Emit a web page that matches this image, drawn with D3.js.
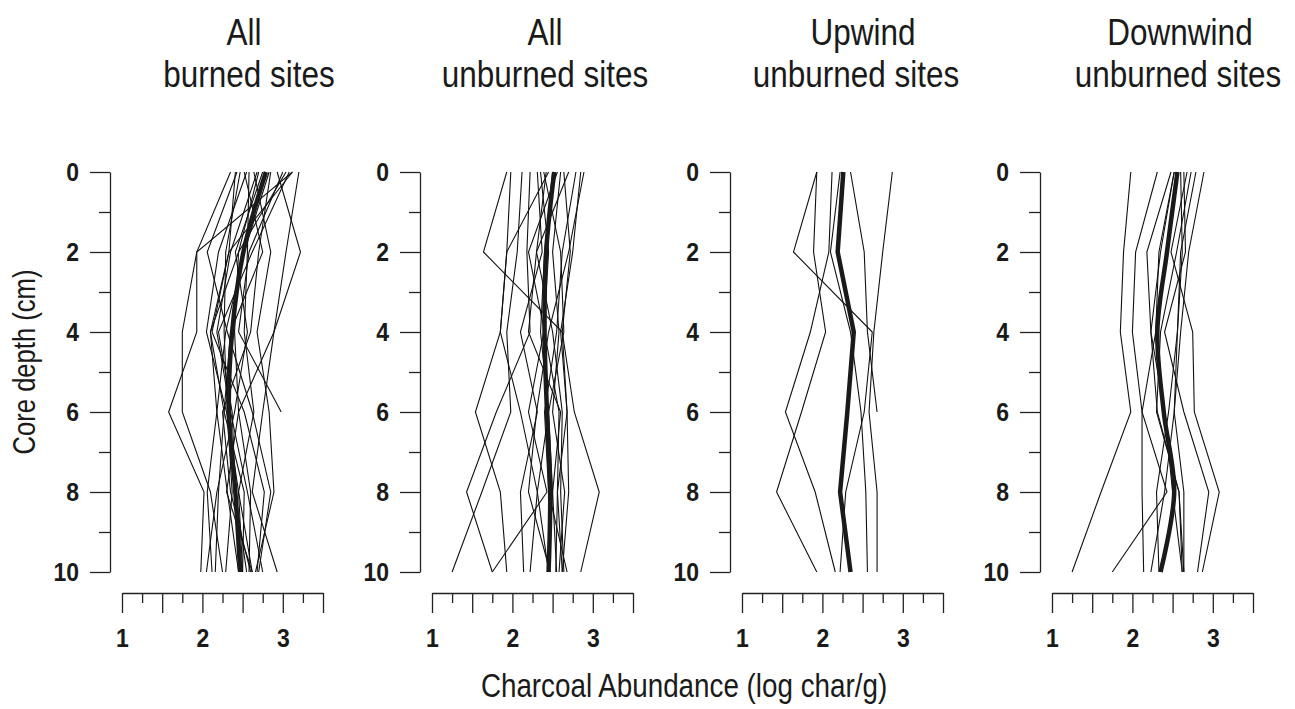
<!DOCTYPE html>
<html>
<head>
<meta charset="utf-8">
<script src="https://cdn.jsdelivr.net/npm/d3@7"></script>
<style>
  body { margin: 0; background: #fff; }
  svg text { font-family: "Liberation Sans", Arial, Helvetica, sans-serif; fill: #1a1a1a; }
</style>
</head>
<body>
<div id="chart"></div>
<script>
// depths sampled in every core (cm)
const depths = [0, 2, 4, 6, 8, 10];

// panel titles (two lines each)
const titles = [
  ["All", "burned sites"],
  ["All", "unburned sites"],
  ["Upwind", "unburned sites"],
  ["Downwind", "unburned sites"]
];

// log char/g per site, values at depths 0,2,4,6,8,10 (some cores stop early)
const burnedSites = [
  [3.12, 1.93, 1.75, 1.75, 2.10, 2.25],
  [2.35, 1.93, 1.93, 1.58, 2.02, 1.98],
  [2.41, 2.33, 2.10, 2.18, 2.06, 2.12],
  [2.47, 2.29, 2.27, 2.31, 2.37, 2.29],
  [2.52, 2.75, 2.35, 2.27, 2.52, 2.50],
  [2.58, 2.56, 2.52, 2.64, 2.45, 2.62],
  [2.64, 2.85, 2.68, 2.83, 2.89, 2.66],
  [2.68, 2.35, 2.18, 2.35, 2.56, 2.75],
  [2.83, 2.52, 2.29, 2.18, 2.31, 2.45],
  [2.93, 3.22, 2.89, 2.75, 2.62, 2.93],
  [3.00, 2.58, 2.45, 2.98],
  [3.04, 2.45, 2.10, 2.27, 2.20, 2.16],
  [3.08, 2.62, 2.20, 2.37, 2.41, 2.55],
  [3.12, 2.33, 2.12, 2.52, 2.77, 2.68],
  [3.20, 3.04, 2.89, 2.45, 2.30, 2.62],
  [2.43, 2.06, 2.31, 2.62, 2.85, 2.70],
  [2.75, 2.41, 2.56, 2.40, 2.18, 2.05],
  [2.85, 2.70, 2.60, 2.25, 2.35, 2.60],
  [2.55, 2.20, 2.05, 2.30, 2.45, 2.50],
  [2.70, 2.45, 2.40, 2.45, 2.60, 2.58]
];
const burnedMean = [2.79, 2.51, 2.37, 2.33, 2.41, 2.47];

const unburnedSites = [
  [1.93, 1.64, 2.62, 2.68, 2.56, 2.62],
  [1.98, 1.93, 1.85, 1.54, 1.85, 1.93],
  [2.12, 2.06, 1.93, 1.98, 1.62, 1.25],
  [2.22, 2.18, 2.22, 1.80, 1.43, 1.75],
  [2.31, 2.37, 2.10, 2.31, 2.10, 2.14],
  [2.35, 2.45, 2.39, 2.20, 2.43, 1.75],
  [2.39, 2.60, 2.64, 2.45, 2.31, 2.22],
  [2.45, 1.93, 1.85, 2.10, 2.31, 2.45],
  [2.56, 2.20, 2.40, 2.58, 2.56, 2.54],
  [2.64, 2.72, 2.62, 2.77, 3.08, 2.85],
  [2.70, 2.30, 2.50, 2.62, 2.60, 2.64],
  [2.79, 2.62, 2.55, 2.40, 2.45, 2.68],
  [2.85, 2.75, 2.60, 2.68, 2.70, 2.62],
  [2.89, 2.70, 2.45, 2.30, 2.20, 2.47],
  [2.50, 2.40, 2.35, 2.45, 2.50, 2.55],
  [2.60, 2.50, 2.58, 2.50, 2.65, 2.58],
  [2.42, 2.30, 2.20, 2.60, 2.50, 2.45]
];
const unburnedMean = [2.52, 2.42, 2.40, 2.43, 2.47, 2.45];

const upwindSites = [
  [1.93, 1.64, 2.62, 2.52, 2.29, 2.22],
  [1.93, 1.89, 2.04, 1.74, 1.43, 1.93],
  [2.12, 2.08, 1.85, 1.54, 1.91, 2.16],
  [2.22, 2.10, 2.35, 2.48, 2.54, 2.56],
  [2.35, 2.52, 2.56, 2.68],
  [2.87, 2.75, 2.64, 2.58, 2.68, 2.68]
];
const upwindMean = [2.26, 2.19, 2.39, 2.31, 2.22, 2.35];

const downwindSites = [
  [1.98, 1.89, 1.85, 1.98, 1.61, 1.25],
  [2.31, 2.04, 2.00, 2.12, 2.43, 1.75],
  [2.48, 2.18, 2.23, 2.31, 2.58, 2.64],
  [2.52, 2.33, 2.29, 2.12, 2.12, 2.14],
  [2.60, 2.62, 2.56, 2.52, 2.40, 2.23],
  [2.64, 2.66, 2.40, 2.64, 2.95, 2.81],
  [2.68, 2.48, 2.75, 2.77, 3.08, 2.87],
  [2.73, 2.55, 2.35, 2.30, 2.58, 2.62],
  [2.79, 2.60, 2.56, 2.45, 2.30, 2.33],
  [2.89, 2.70, 2.60, 2.52, 2.64, 2.64],
  [2.52, 2.35, 2.23, 2.40, 2.50, 2.62]
];
const downwindMean = [2.56, 2.43, 2.31, 2.39, 2.52, 2.35];

const xMajorTicks = [1, 1.5, 2, 2.5, 3, 3.5];
const xMinorTicks = [1.25, 1.75, 2.25, 2.75, 3.25];
const xLabelTicks = [1, 2, 3];
const yMajorTicks = [0, 2, 4, 6, 8, 10];
const yMinorTicks = [1, 3, 5, 7, 9];

const panels = [
  { sites: burnedSites, mean: burnedMean, smooth: true },
  { sites: unburnedSites, mean: unburnedMean, smooth: true },
  { sites: upwindSites, mean: upwindMean, smooth: false },
  { sites: downwindSites, mean: downwindMean, smooth: true }
];

// layout
const width = 1295, height = 709;
const axisX0 = 110, panelStep = 310;
const titleX = [[244, 249], [545, 545], [863, 856], [1180, 1178]];
const narrow = 0.84;   // the original face is a condensed sans

const svg = d3.select("#chart").append("svg")
  .attr("width", width).attr("height", height);

// text squeezed horizontally around its anchor point
function narrowText(parent, x, y, str, size, sx) {
  return parent.append("text")
    .attr("transform", `translate(${x},${y}) scale(${sx},1)`)
    .attr("text-anchor", "middle")
    .attr("font-size", size)
    .text(str);
}

const y = d3.scaleLinear().domain([0, 10]).range([172, 572]);

panels.forEach((p, i) => {
  const ax = axisX0 + i * panelStep;
  const x = d3.scaleLinear().domain([1, 3.5]).range([ax + 12, ax + 213]);
  const g = svg.append("g");

  // y axis: major (labelled) and minor ticks
  g.append("g").attr("transform", `translate(${ax},0)`)
    .call(d3.axisLeft(y).tickValues(yMajorTicks).tickSize(20).tickSizeOuter(0).tickPadding(11))
    .call(a => a.selectAll("text").each(function () {
      const t = d3.select(this), tx = +t.attr("x");
      t.attr("x", 0).attr("transform", `translate(${tx},0) scale(0.92,1)`);
    }));
  g.append("g").attr("transform", `translate(${ax},0)`)
    .call(d3.axisLeft(y).tickValues(yMinorTicks).tickSize(11).tickSizeOuter(0).tickFormat(""))
    .call(a => a.select(".domain").remove());

  // x axis
  g.append("g").attr("transform", "translate(0,593)")
    .call(d3.axisBottom(x).tickValues(xMajorTicks).tickSize(20).tickSizeOuter(0).tickPadding(16)
      .tickFormat(d => xLabelTicks.includes(d) ? d : ""))
    .call(a => a.selectAll("text").attr("transform", "scale(0.92,1)"));
  g.append("g").attr("transform", "translate(0,593)")
    .call(d3.axisBottom(x).tickValues(xMinorTicks).tickSize(10).tickSizeOuter(0).tickFormat(""))
    .call(a => a.select(".domain").remove());

  g.selectAll(".tick text")
    .attr("font-size", 25).attr("font-weight", "bold").attr("font-family", null).attr("fill", "#1a1a1a");
  g.selectAll(".domain, .tick line").attr("stroke", "#222").attr("stroke-width", 1.3);

  // individual site profiles
  const line = d3.line()
    .x(d => x(d))
    .y((d, k) => y(depths[k]));
  g.append("g").selectAll("path")
    .data(p.sites)
    .join("path")
    .attr("d", line)
    .attr("fill", "none")
    .attr("stroke", "#111")
    .attr("stroke-width", 1.1);

  // mean profile
  const meanLine = d3.line()
    .x(d => x(d))
    .y((d, k) => y(depths[k]))
    .curve(p.smooth ? d3.curveCatmullRom.alpha(0.5) : d3.curveLinear);
  g.append("path")
    .attr("d", meanLine(p.mean))
    .attr("fill", "none")
    .attr("stroke", "#1a1a1a")
    .attr("stroke-width", 4.5)
    .attr("stroke-linejoin", "round");

  // title
  narrowText(g, titleX[i][0], 45, titles[i][0], 37.5, narrow);
  narrowText(g, titleX[i][1], 87, titles[i][1], 37.5, narrow);
});

svg.append("text")
  .attr("transform", "translate(35,362) rotate(-90) scale(0.8,1)")
  .attr("text-anchor", "middle")
  .attr("font-size", 32)
  .text("Core depth (cm)");

narrowText(svg, 684, 697, "Charcoal Abundance (log char/g)", 33.5, 0.83);
</script>
</body>
</html>
